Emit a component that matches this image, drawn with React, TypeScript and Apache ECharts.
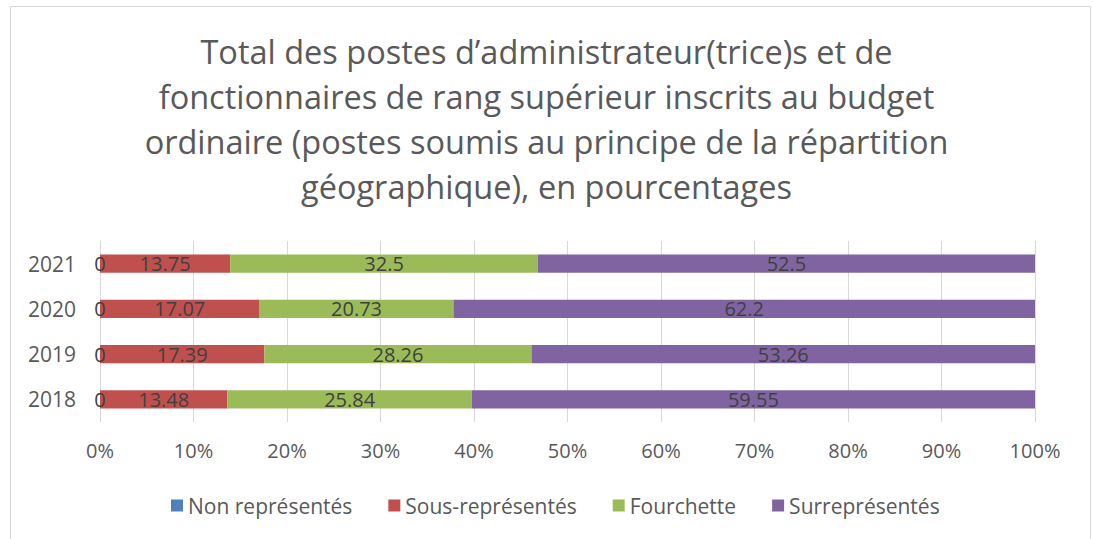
import React, { useEffect, useRef } from "react";
import * as echarts from "echarts";

const years = ["2018", "2019", "2020", "2021"];
const nonRepresentes = [0, 0, 0, 0];
const sousRepresentes = [13.48, 17.39, 17.07, 13.75];
const fourchette = [25.84, 28.26, 20.73, 32.5];
const surrepresentes = [59.55, 53.26, 62.2, 52.5];
const seriesNames = ["Non représentés", "Sous-représentés", "Fourchette", "Surreprésentés"];
const colors = ["#4F81BD", "#C0504D", "#9BBB59", "#8064A2"];
const xTicks = ["0%", "10%", "20%", "30%", "40%", "50%", "60%", "70%", "80%", "90%", "100%"];

const titleText =
  "Total des postes d’administrateur(trice)s et de\nfonctionnaires de rang supérieur inscrits au budget\nordinaire (postes soumis au principe de la répartition\ngéographique), en pourcentages";

const FONT = "'Open Sans', 'Liberation Sans', sans-serif";

export default function App() {
  const ref = useRef<HTMLDivElement>(null);
  useEffect(() => {
    if (!ref.current) return;
    const chart = echarts.init(ref.current, undefined, { renderer: "svg" });
    const raw = [nonRepresentes, sousRepresentes, fourchette, surrepresentes];
    const totals = years.map((_, i) => raw.reduce((s, arr) => s + arr[i], 0));
    const series = raw.map((arr, k) => ({
      name: seriesNames[k],
      type: "bar",
      stack: "total",
      barWidth: "40%",
      itemStyle: { color: colors[k] },
      data: arr.map((v, i) => (v / totals[i]) * 100),
      label: {
        show: true,
        position: "inside",
        color: "#404040",
        fontSize: 20,
        fontFamily: FONT,
        formatter: (p: any) => String(arr[p.dataIndex]),
      },
    }));
    chart.setOption({
      animation: false,
      backgroundColor: "#ffffff",
      title: {
        text: titleText,
        left: "center",
        top: 24,
        textStyle: {
          fontFamily: FONT,
          fontSize: 32.5,
          fontWeight: "normal",
          color: "#595959",
          lineHeight: 45,
        },
      },
      legend: {
        top: 490,
        left: 166,
        itemWidth: 12,
        itemHeight: 12,
        itemGap: 36,
        icon: "rect",
        textStyle: { fontFamily: FONT, fontSize: 21, color: "#595959" },
        data: seriesNames,
      },
      grid: { left: 100, right: 58, top: 241, height: 181, containLabel: false },
      xAxis: {
        type: "value",
        min: 0,
        max: 100,
        interval: 10,
        axisLine: { show: false },
        axisTick: { show: false },
        splitLine: { show: true, lineStyle: { color: "#d9d9d9", width: 1 } },
        axisLabel: {
          fontFamily: FONT,
          fontSize: 20,
          color: "#595959",
          margin: 18,
          formatter: (v: number) => xTicks[Math.round(v / 10)],
        },
      },
      yAxis: {
        type: "category",
        data: years,
        axisLine: { show: false },
        axisTick: { show: false },
        axisLabel: { fontFamily: FONT, fontSize: 21, color: "#595959", margin: 24 },
      },
      graphic: [
        {
          type: "rect",
          shape: { x: 10.5, y: 6.5, width: 1080, height: 545 },
          style: { fill: "none", stroke: "#d9d9d9", lineWidth: 1 },
          silent: true,
        },
      ],
      series,
    });
    return () => chart.dispose();
  }, []);
  return (
    <div
      ref={ref}
      style={{ position: "fixed", left: 0, top: 0, width: 1093, height: 539 }}
    />
  );
}
